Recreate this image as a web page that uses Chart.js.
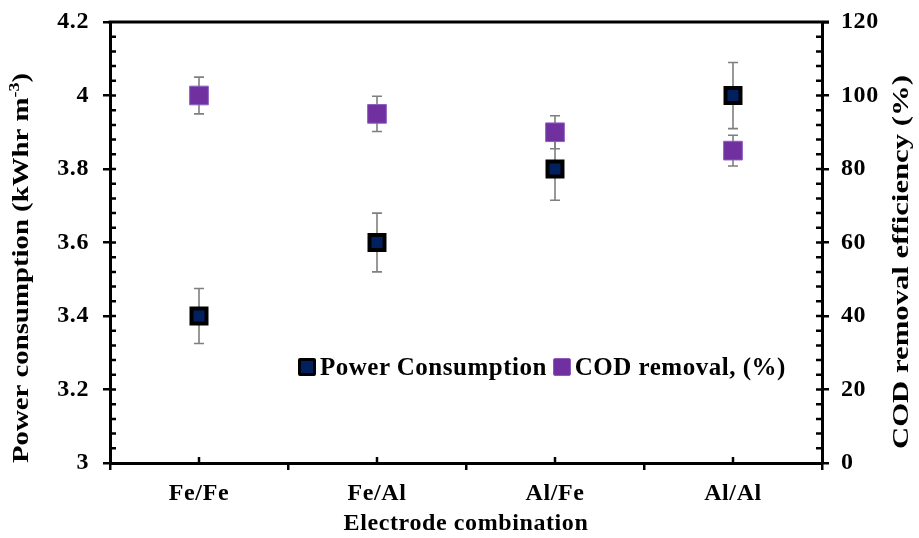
<!DOCTYPE html>
<html>
<head>
<meta charset="utf-8">
<script src="https://cdn.jsdelivr.net/npm/chart.js@4.4.1/dist/chart.umd.min.js"></script>
<style>
  html, body { margin: 0; padding: 0; background: #fff; }
  #wrap { position: relative; width: 919px; height: 538px; }
  #legend {
    position: absolute; left: 298px; top: 353px;
    font-family: 'Liberation Serif', 'Times New Roman', serif;
    font-weight: bold; font-size: 25px; letter-spacing: 0.5px; color: #000;
    display: flex; align-items: center; white-space: nowrap;
  }
  #legend .box { display: inline-block; box-sizing: border-box; width: 18px; height: 18px; margin-right: 4px; border-radius: 2px; }
  #legend .pw { background: #002060; border: 3px solid #000; }
  #legend .cod { background: #7030a0; border: 1px solid #8e5cc0; margin-left: 6px; }
</style>
</head>
<body>
<div id="wrap">
  <canvas id="chart" width="919" height="538"></canvas>
  <div id="legend">
    <span class="box pw"></span><span>Power Consumption</span>
    <span class="box cod"></span><span>COD removal, (%)</span>
  </div>
</div>
<script>
// electrode pairs and measured values
const combos = ['Fe/Fe', 'Fe/Al', 'Al/Fe', 'Al/Al'];
const powerUse = [3.4, 3.6, 3.8, 4.0];        // kWhr m-3
const powerErr = [0.075, 0.08, 0.085, 0.09];
const codRemoval = [100, 95, 90, 85];          // %
const codErr = [5, 4.8, 4.5, 4.2];
const leftTicks = [3, 3.2, 3.4, 3.6, 3.8, 4, 4.2];
const rightTicks = [0, 20, 40, 60, 80, 100, 120];

const FONT = "'Liberation Serif', 'Times New Roman', serif";

// gray error bars with caps, drawn under the markers
const errorBars = {
  id: 'errorBars',
  beforeDraw(chart) {
    chart.ctx.letterSpacing = '0.6px';
  },
  beforeDatasetsDraw(chart) {
    const ctx = chart.ctx;
    const sets = [[0, powerUse, powerErr, 'y'], [1, codRemoval, codErr, 'y1']];
    ctx.save();
    ctx.strokeStyle = '#7f7f7f';
    ctx.lineWidth = 1.6;
    sets.forEach(([idx, vals, errs, axis]) => {
      const meta = chart.getDatasetMeta(idx);
      const sc = chart.scales[axis];
      meta.data.forEach((pt, i) => {
        const top = sc.getPixelForValue(vals[i] + errs[i]);
        const bot = sc.getPixelForValue(vals[i] - errs[i]);
        ctx.beginPath();
        ctx.moveTo(pt.x, top); ctx.lineTo(pt.x, bot);
        ctx.moveTo(pt.x - 5, top); ctx.lineTo(pt.x + 5, top);
        ctx.moveTo(pt.x - 5, bot); ctx.lineTo(pt.x + 5, bot);
        ctx.stroke();
      });
    });
    ctx.restore();
  }
};

// vertical axis titles, written bottom to top, stretched along the text
function sideTitle(ctx, cx, cy, parts, stretch) {
  ctx.save();
  ctx.translate(cx, cy);
  ctx.rotate(-Math.PI / 2);
  ctx.scale(stretch, 1);
  ctx.letterSpacing = '0px';
  ctx.fillStyle = '#000';
  ctx.textBaseline = 'middle';
  ctx.textAlign = 'left';
  let total = 0;
  parts.forEach(p => { ctx.font = p.font; total += ctx.measureText(p.text).width; });
  let x = -total / 2;
  parts.forEach(p => {
    ctx.font = p.font;
    ctx.fillText(p.text, x, p.dy || 0);
    x += ctx.measureText(p.text).width;
  });
  ctx.restore();
}

// inner minor ticks, top border, side titles
const frame = {
  id: 'frame',
  afterDraw(chart) {
    const ctx = chart.ctx;
    const a = chart.chartArea;
    const yl = chart.scales.y, yr = chart.scales.y1, x = chart.scales.x;
    ctx.save();
    ctx.strokeStyle = '#000';
    ctx.lineWidth = 2.5;
    ctx.beginPath();
    for (let i = 1; i < 30; i++) {
      const py = yl.getPixelForValue(3 + i * 0.04);
      ctx.moveTo(a.left, py); ctx.lineTo(a.left + 6, py);
      const qy = yr.getPixelForValue(i * 4);
      ctx.moveTo(a.right, qy); ctx.lineTo(a.right - 6, qy);
    }
    combos.forEach((c, i) => {
      const px = x.getPixelForValue(i);
      ctx.moveTo(px, a.bottom); ctx.lineTo(px, a.bottom - 6);
    });
    ctx.stroke();
    ctx.lineWidth = 3;
    ctx.beginPath();
    ctx.moveTo(a.left - 1.5, a.top); ctx.lineTo(a.right + 7, a.top);
    ctx.stroke();
    ctx.restore();

    const big = 'bold 24px ' + FONT, small = 'bold 15px ' + FONT;
    sideTitle(ctx, 22, 268, [
      { text: 'Power consumption (kWhr m', font: big },
      { text: '-3', font: small, dy: -7 },
      { text: ')', font: big }
    ], 1.2);
    sideTitle(ctx, 902, 262, [{ text: 'COD removal efficiency (%)', font: big }], 1.28);
  }
};

const axisFont = { family: FONT, size: 24, weight: 'bold' };
const noPad = s => { s.paddingTop = 0; s.paddingBottom = 0; };

new Chart(document.getElementById('chart'), {
  type: 'line',
  data: {
    labels: combos,
    datasets: [
      {
        label: 'Power Consumption',
        data: powerUse,
        yAxisID: 'y',
        showLine: false,
        pointStyle: 'rect',
        pointRadius: 10.6,
        pointHoverRadius: 10.6,
        pointBackgroundColor: '#002060',
        pointBorderColor: '#000',
        pointBorderWidth: 4,
        order: 2
      },
      {
        label: 'COD removal, (%)',
        data: codRemoval,
        yAxisID: 'y1',
        showLine: false,
        pointStyle: 'rect',
        pointRadius: 13.2,
        pointHoverRadius: 13.2,
        pointBackgroundColor: '#7030a0',
        pointBorderColor: '#8e5cc0',
        pointBorderWidth: 1,
        order: 1
      }
    ]
  },
  options: {
    responsive: false,
    animation: false,
    layout: { padding: { top: 22, left: 0, right: 0, bottom: 0 } },
    plugins: { legend: { display: false }, tooltip: { enabled: false } },
    scales: {
      x: {
        offset: true,
        afterFit: s => { s.height = 75; s.paddingLeft = 0; s.paddingRight = 0; },
        grid: { offset: true, drawOnChartArea: false, color: '#000', lineWidth: 2.5, tickLength: 7 },
        border: { color: '#000', width: 3 },
        ticks: { color: '#000', font: axisFont, padding: 9 },
        title: { display: true, text: 'Electrode combination', color: '#000', font: axisFont, padding: { top: 0, bottom: 0 } }
      },
      y: {
        position: 'left',
        min: 3, max: 4.2,
        afterFit: s => { s.width = 110; noPad(s); },
        afterBuildTicks: s => { s.ticks = leftTicks.map(v => ({ value: v })); },
        grid: { drawOnChartArea: false, color: '#000', lineWidth: 2.5, tickLength: 7 },
        border: { color: '#000', width: 3 },
        ticks: { color: '#000', font: axisFont, padding: 14, callback: v => String(v) },
        title: { display: false }
      },
      y1: {
        position: 'right',
        min: 0, max: 120,
        afterFit: s => { s.width = 97; noPad(s); },
        afterBuildTicks: s => { s.ticks = rightTicks.map(v => ({ value: v })); },
        grid: { drawOnChartArea: false, color: '#000', lineWidth: 2.5, tickLength: 7 },
        border: { color: '#000', width: 3 },
        ticks: { color: '#000', font: axisFont, padding: 12, callback: v => String(v) },
        title: { display: false }
      }
    }
  },
  plugins: [errorBars, frame]
});
</script>
</body>
</html>
